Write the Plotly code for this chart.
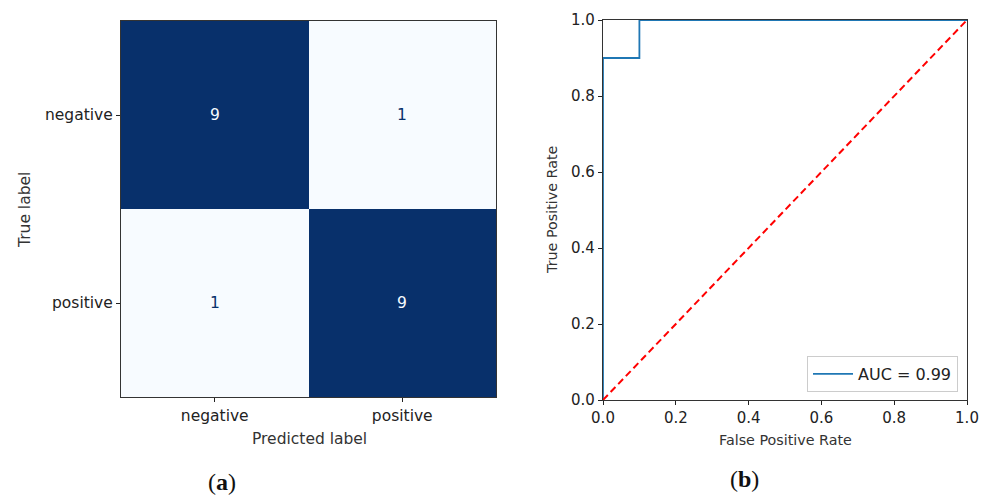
import plotly.graph_objects as go

# ---- data ----
cm_labels = ["negative", "positive"]
cm_values = [[9, 1], [1, 9]]
roc_fpr = [0.0, 0.0, 0.1, 0.1, 1.0]
roc_tpr = [0.0, 0.9, 0.9, 1.0, 1.0]
chance_x = [0.0, 1.0]
chance_y = [0.0, 1.0]
auc_label = "AUC = 0.99"
roc_ticks = [0.0, 0.2, 0.4, 0.6, 0.8, 1.0]

W, H = 986, 496
DARK = "#08306b"
LIGHT = "#f7fbff"
FONT = "DejaVu Sans"
AX = "#222222"

def px(x):
    return x / W

def py(y):
    return 1 - y / H

fig = go.Figure()

fig.add_trace(go.Heatmap(
    z=cm_values, x=cm_labels, y=cm_labels,
    colorscale=[[0, LIGHT], [1, DARK]],
    zmin=min(min(r) for r in cm_values), zmax=max(max(r) for r in cm_values),
    showscale=False, xgap=0, ygap=0,
    xaxis="x", yaxis="y", hoverinfo="skip",
))

zmid = (min(min(r) for r in cm_values) + max(max(r) for r in cm_values)) / 2
for i, row_lab in enumerate(cm_labels):
    for j, col_lab in enumerate(cm_labels):
        v = cm_values[i][j]
        fig.add_annotation(
            x=col_lab, y=row_lab, xref="x", yref="y", text=str(v),
            showarrow=False,
            font=dict(family=FONT, size=15.5, color=LIGHT if v > zmid else DARK),
        )

fig.add_trace(go.Scatter(
    x=roc_fpr, y=roc_tpr, mode="lines", name=auc_label,
    line=dict(color="#1f77b4", width=1.8),
    xaxis="x2", yaxis="y2", showlegend=True,
))
fig.add_trace(go.Scatter(
    x=chance_x, y=chance_y, mode="lines",
    line=dict(color="#ff0000", width=2, dash="7px,4px"),
    xaxis="x2", yaxis="y2", showlegend=False,
))

common_axis = dict(showline=True, mirror=True, linecolor="#333333", linewidth=1.2,
                   ticks="outside", ticklen=4, tickcolor=AX, tickwidth=1,
                   showgrid=False, zeroline=False, automargin=False)

fig.update_layout(
    width=W, height=H,
    margin=dict(l=0, r=0, t=0, b=0, autoexpand=False),
    paper_bgcolor="white", plot_bgcolor="white",
    font=dict(family=FONT, color=AX),
    xaxis=dict(domain=[px(121), px(496)], anchor="y",
               tickfont=dict(size=15.5, family=FONT, color=AX), **common_axis),
    yaxis=dict(domain=[py(397), py(21)], anchor="x", autorange="reversed",
               tickfont=dict(size=15.5, family=FONT, color=AX), **common_axis),
    xaxis2=dict(domain=[px(603), px(967)], anchor="y2", range=[0, 1],
                tickvals=roc_ticks, tickformat=".1f",
                tickfont=dict(size=15, family=FONT, color=AX), **common_axis),
    yaxis2=dict(domain=[py(400), py(20)], anchor="x2", range=[0, 1],
                tickvals=roc_ticks, tickformat=".1f",
                tickfont=dict(size=15, family=FONT, color=AX), **common_axis),
    legend=dict(x=px(958), y=py(392), xanchor="right", yanchor="bottom",
                bgcolor="rgba(255,255,255,0.9)", bordercolor="#cccccc", borderwidth=1,
                itemwidth=40,
                font=dict(family=FONT, size=16, color=AX)),
)

texts = [
    ("True label", 25, 210, -90, 15.5),
    ("Predicted label", 309, 439, 0, 15.5),
    ("True Positive Rate", 552, 210, -90, 14.3),
    ("False Positive Rate", 785, 440, 0, 14.3),
]
for t, x, y, ang, sz in texts:
    fig.add_annotation(text=t, x=px(x), y=py(y), xref="paper", yref="paper",
                       showarrow=False, textangle=ang,
                       font=dict(family=FONT, size=sz, color="#333333"),
                       xanchor="center", yanchor="middle")

for t, x, y in [("(<b>a</b>)", 222, 482), ("(<b>b</b>)", 744, 479)]:
    fig.add_annotation(text=t, x=px(x), y=py(y), xref="paper", yref="paper",
                       showarrow=False,
                       font=dict(family="Liberation Serif", size=24, color="#111111"),
                       xanchor="center", yanchor="middle")

fig.write_html("out.html")
